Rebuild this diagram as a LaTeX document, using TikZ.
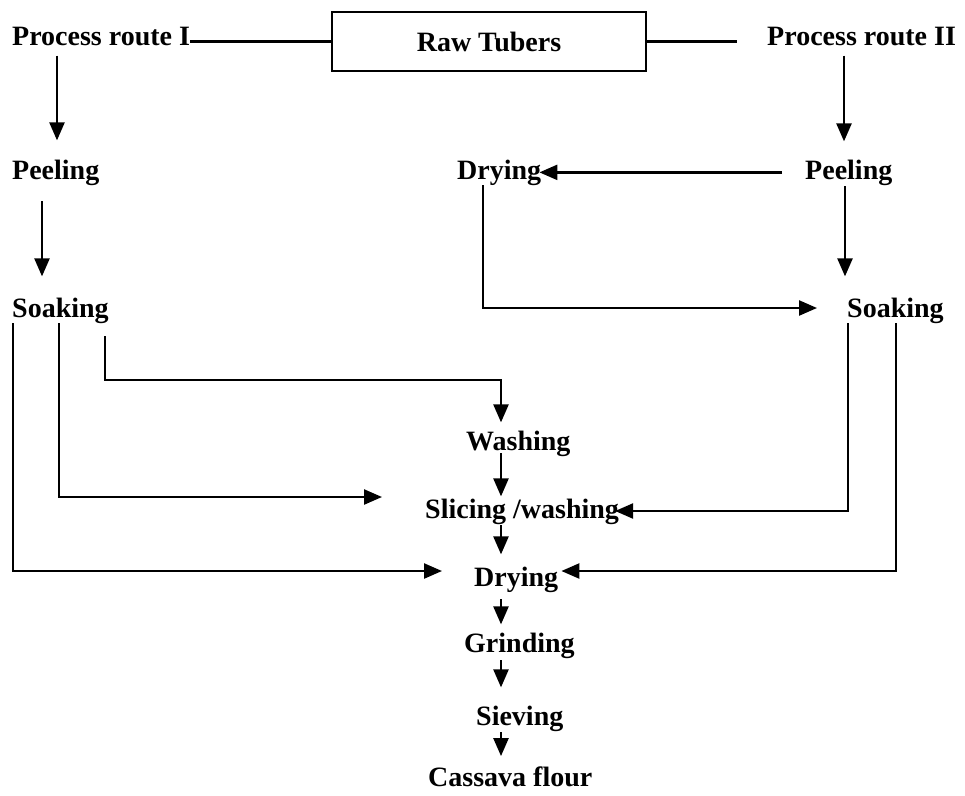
\documentclass[tikz,border=0pt]{standalone}
\usepackage{fontspec}
\setmainfont{Liberation Serif}
\usetikzlibrary{arrows.meta,calc}
\begin{document}
\begin{tikzpicture}[x=1pt,y=-1pt,
  lbl/.style={inner sep=0pt, anchor=base west, font=\fontsize{28pt}{32pt}\selectfont\bfseries},
  conn/.style={line width=2.4pt, black},
  arr/.style={conn, -{Triangle[length=18pt,width=15pt]}}]
\useasboundingbox (0,0) rectangle (965,795);
\fill[white] (0,0) rectangle (965,795);
% nodes
\node[lbl] (p1) at (12,45) {Process route I};
\node[draw, conn, minimum width=314pt, minimum height=59pt, inner sep=0pt,
      font=\fontsize{28pt}{32pt}\selectfont\bfseries] (raw) at (489,41.5) {Raw Tubers};
\node[lbl] (p2) at (767,45) {Process route II};
\node[lbl] (peel1) at (12,179) {Peeling};
\node[lbl] (dry1) at (457,179) {Drying};
\node[lbl] (peel2) at (805,179) {Peeling};
\node[lbl] (soak1) at (12,317) {Soaking};
\node[lbl] (soak2) at (847,317) {Soaking};
\node[lbl] (wash) at (466,450) {Washing};
\node[lbl] (slice) at (425,518) {Slicing /washing};
\node[lbl] (dry2) at (474,586) {Drying};
\node[lbl] (grind) at (464,652) {Grinding};
\node[lbl] (sieve) at (476,725) {Sieving};
\node[lbl] (flour) at (428,786) {Cassava flour};
% guide coordinates
\coordinate (cx) at (501,0);
\coordinate (xL1) at (57,0);
\coordinate (xL2) at (42,0);
\coordinate (xR1) at (844,0);
\coordinate (xR2) at (845,0);
\coordinate (xD) at (483,0);
\coordinate (h0) at (0,308);
\coordinate (h1) at (0,380);
\coordinate (h2) at (0,497);
\coordinate (h3) at (0,571);
\coordinate (h4) at (0,511);
% top connectors
\draw[conn] (p1.east |- raw.west) -- (raw.west);
\draw[conn, shorten >=30pt] (raw.east) -- (p2.west |- raw.east);
% route I
\draw[arr, shorten <=10pt, shorten >=19pt] (p1.south -| xL1) -- (peel1.north -| xL1);
\draw[arr, shorten <=16pt, shorten >=21pt] (peel1.south -| xL2) -- (soak1.north -| xL2);
% route II
\draw[arr, shorten <=10pt, shorten >=18pt] (p2.south -| xR1) -- (peel2.north -| xR1);
\draw[arr, shorten <=1pt, shorten >=21pt] (peel2.south -| xR2) -- (soak2.north -| xR2);
\draw[arr, shorten <=23pt, shorten >=-2pt] (peel2.west) -- (dry1.east);
\draw[arr, shorten >=30pt] (dry1.south -| xD) |- (soak2.west |- h0);
% from Soaking (route I)
\draw[arr, shorten >=32pt] ([xshift=1pt]soak1.south west) |- (dry2.west |- h3);
\draw[arr, shorten >=43pt] ([xshift=47pt]soak1.south west) |- (slice.west |- h2);
\draw[arr, shorten <=13pt, shorten >=8pt] ([xshift=93pt]soak1.south west) |- (cx |- h1) -- (wash.north -| cx);
% from Soaking (route II)
\draw[arr] ([xshift=1pt]soak2.south west) |- ($(slice.east |- h4)+(-4,0)$);
\draw[arr] ([xshift=49pt]soak2.south west) |- ($(dry2.east |- h3)+(3,0)$);
% main column
\draw[arr, shorten <=-3pt, shorten >=2pt] (wash.south -| cx) -- (slice.north -| cx);
\draw[arr, shorten <=1pt, shorten >=12pt] (slice.south -| cx) -- (dry2.north -| cx);
\draw[arr, shorten <=7pt, shorten >=8pt] (dry2.south -| cx) -- (grind.north -| cx);
\draw[arr, shorten <=2pt, shorten >=18pt] (grind.south -| cx) -- (sieve.north -| cx);
\draw[arr, shorten <=1pt, shorten >=10pt] (sieve.south -| cx) -- (flour.north -| cx);
\end{tikzpicture}
\end{document}
